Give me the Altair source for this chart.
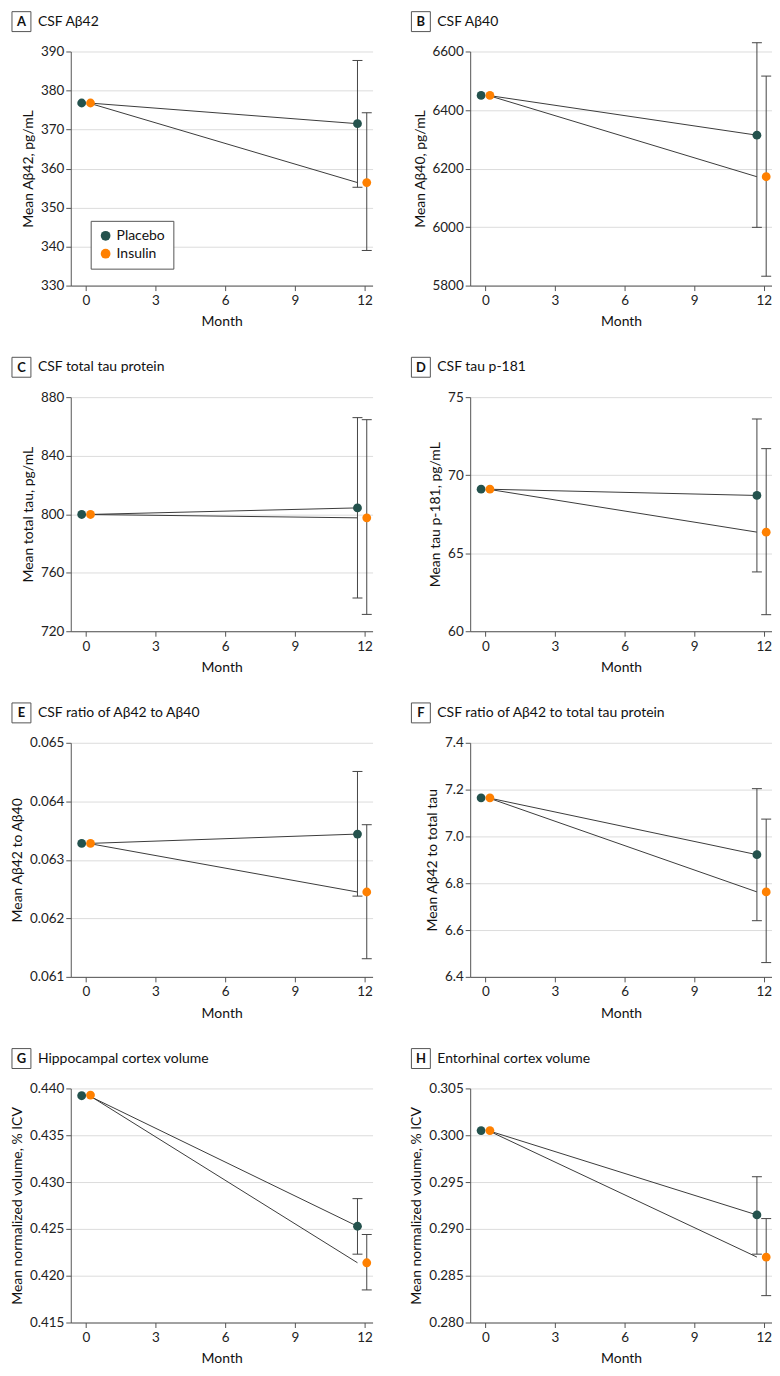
import altair as alt
import pandas as pd

FONT = "Lato"

letters = ["A", "B", "C", "D", "E", "F", "G", "H"]
titles = [
    "CSF Aβ42", "CSF Aβ40", "CSF total tau protein", "CSF tau p-181",
    "CSF ratio of Aβ42 to Aβ40", "CSF ratio of Aβ42 to total tau protein",
    "Hippocampal cortex volume", "Entorhinal cortex volume",
]
y_titles = [
    "Mean Aβ42, pg/mL", "Mean Aβ40, pg/mL", "Mean total tau, pg/mL",
    "Mean tau p-181, pg/mL", "Mean Aβ42 to Aβ40", "Mean Aβ42 to total tau",
    "Mean normalized volume, % ICV", "Mean normalized volume, % ICV",
]
y_ticks = [
    [330, 340, 350, 360, 370, 380, 390],
    [5800, 6000, 6200, 6400, 6600],
    [720, 760, 800, 840, 880],
    [60, 65, 70, 75],
    [0.061, 0.062, 0.063, 0.064, 0.065],
    [6.4, 6.6, 6.8, 7.0, 7.2, 7.4],
    [0.415, 0.420, 0.425, 0.430, 0.435, 0.440],
    [0.280, 0.285, 0.290, 0.295, 0.300, 0.305],
]
y_formats = ["d", "d", "d", "d", ".3f", ".1f", ".3f", ".3f"]
x_ticks = [0, 3, 6, 9, 12]

groups = ["Placebo", "Insulin"]
placebo_x = [-0.18, 11.7]
insulin_x = [0.2, 12.1]
line_x = [0.12, 11.7]

placebo_base = [376.8, 6450, 799.8, 69.1, 0.06328, 7.165, 0.43922, 0.3005]
insulin_base = [376.8, 6450, 799.8, 69.1, 0.06328, 7.165, 0.43929, 0.3005]
placebo_12 = [371.5, 6314, 804.3, 68.7, 0.06344, 6.922, 0.42528, 0.29149]
placebo_lo = [355.2, 5999, 742.7, 63.8, 0.06238, 6.640, 0.42230, 0.28730]
placebo_hi = [387.7, 6630, 866.0, 73.6, 0.06451, 7.204, 0.42823, 0.29557]
insulin_12 = [356.4, 6172, 797.5, 66.35, 0.06245, 6.763, 0.42138, 0.28699]
insulin_lo = [339.0, 5832, 731.5, 61.06, 0.06131, 6.461, 0.41848, 0.28287]
insulin_hi = [374.3, 6516, 864.6, 71.7, 0.06360, 7.074, 0.42440, 0.29110]

colors = ["#24524d", "#ff8000"]
W, H = 303, 235


def panel(i):
    pts = pd.DataFrame({
        "group": ["Placebo", "Placebo", "Insulin", "Insulin"],
        "x": [placebo_x[0], placebo_x[1], insulin_x[0], insulin_x[1]],
        "y": [placebo_base[i], placebo_12[i], insulin_base[i], insulin_12[i]],
    })
    lines = pd.DataFrame({
        "group": ["Placebo", "Placebo", "Insulin", "Insulin"],
        "x": [line_x[0], line_x[1], line_x[0], line_x[1]],
        "y": [placebo_base[i], placebo_12[i], insulin_base[i], insulin_12[i]],
    })
    errs = pd.DataFrame({
        "group": ["Placebo", "Insulin"],
        "x": [placebo_x[1], insulin_x[1]],
        "lo": [placebo_lo[i], insulin_lo[i]],
        "hi": [placebo_hi[i], insulin_hi[i]],
    })
    ticks = y_ticks[i]
    xs = alt.Scale(domain=[-0.65, 12.35], nice=False, zero=False)
    ys = alt.Scale(domain=[ticks[0], ticks[-1]], nice=False, zero=False)
    xax = alt.Axis(values=x_ticks, title="Month", grid=False, format="d", labelOverlap=False)
    yax = alt.Axis(values=ticks, title=y_titles[i], grid=True, format=y_formats[i],
                   labelOverlap=False)

    def X(f="x"):
        return alt.X(f"{f}:Q", scale=xs, axis=xax)

    def Y(f):
        return alt.Y(f"{f}:Q", scale=ys, axis=yax)

    line = alt.Chart(lines).mark_line(color="#3a3a3a", strokeWidth=1).encode(
        x=X(), y=Y("y"), detail="group:N"
    )
    bar = alt.Chart(errs).mark_rule(color="#444", strokeWidth=1).encode(
        x=X(), y=Y("lo"), y2="hi:Q"
    )
    cap_hi = alt.Chart(errs).mark_rule(color="#444", strokeWidth=1, xOffset=-5, x2Offset=5).encode(
        x=X(), x2="x:Q", y=Y("hi")
    )
    cap_lo = alt.Chart(errs).mark_rule(color="#444", strokeWidth=1, xOffset=-5, x2Offset=5).encode(
        x=X(), x2="x:Q", y=Y("lo")
    )
    if i == 0:
        leg = alt.Legend(
            title=None, orient="none", legendX=20, legendY=170,
            strokeColor="#555", fillColor="white", padding=8,
            symbolSize=95, symbolType="circle", labelFontSize=14,
            labelFont=FONT, labelColor="#111", rowPadding=4, symbolStrokeWidth=0,
        )
    else:
        leg = None
    dots = alt.Chart(pts).mark_circle(size=78, opacity=1).encode(
        x=X(), y=Y("y"),
        color=alt.Color("group:N", scale=alt.Scale(domain=groups, range=colors),
                        sort=groups, legend=leg),
    )
    lab = pd.DataFrame({"letter": [letters[i]], "title": [titles[i]]})
    box = alt.Chart(lab).mark_rect(fill="white", stroke="#555", strokeWidth=1).encode(
        x=alt.value(-59), x2=alt.value(-40), y=alt.value(-40), y2=alt.value(-20)
    )
    letter = alt.Chart(lab).mark_text(
        font=FONT, fontSize=13, fontWeight="bold", align="center", baseline="middle", color="#111"
    ).encode(x=alt.value(-49.5), y=alt.value(-29.5), text="letter:N")
    title = alt.Chart(lab).mark_text(
        font=FONT, fontSize=14, align="left", baseline="middle", color="#111"
    ).encode(x=alt.value(-33), y=alt.value(-30), text="title:N")

    return alt.layer(line, bar, cap_hi, cap_lo, dots, box, letter, title).properties(
        width=W, height=H
    )


chart = alt.concat(
    *[panel(i) for i in range(8)], columns=2, spacing={"row": 27, "column": 37}
).resolve_scale(
    x="independent", y="independent", color="independent"
).properties(
    padding={"left": 2, "top": 0, "right": 0, "bottom": 0}
).configure_view(stroke=None).configure_axis(
    labelFont=FONT, titleFont=FONT, labelFontSize=13.5, titleFontSize=14,
    titleFontWeight="normal", labelColor="#222", titleColor="#111",
    domainColor="#555", tickColor="#555", tickSize=5, gridColor="#dcdcdc",
    labelPadding=2,
).configure_axisX(titlePadding=8, labelPadding=3).configure_axisY(titlePadding=5)

chart.save("out.html", embed_options={"renderer": "svg", "actions": False})
